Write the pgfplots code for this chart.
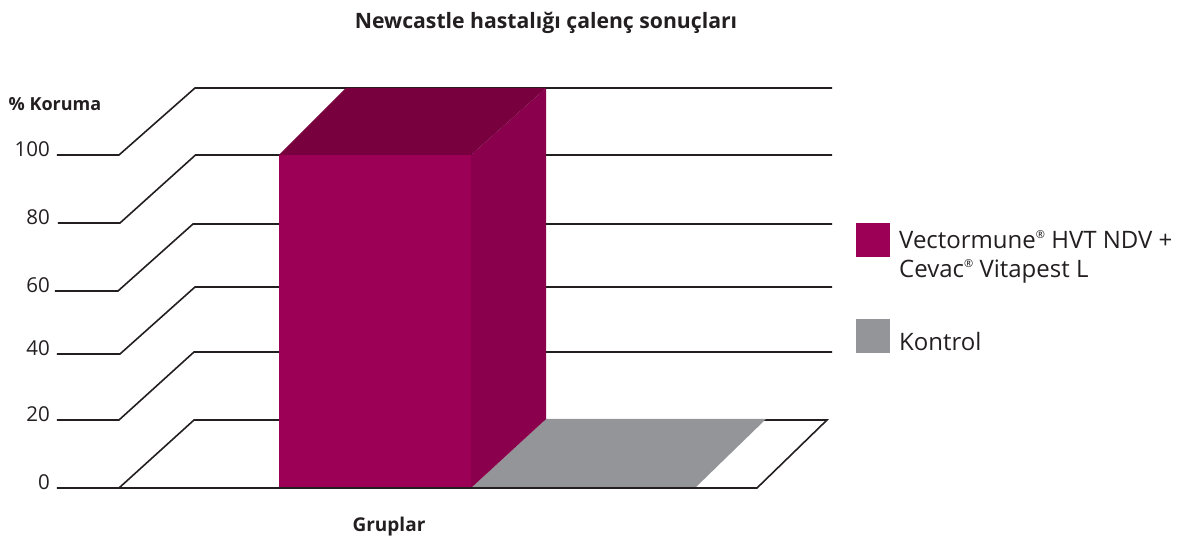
\documentclass[border=0pt]{standalone}
\usepackage{fontspec}
\setmainfont{Open Sans}
\usepackage{pgfplots}
\pgfplotsset{compat=1.18}
\definecolor{inkline}{HTML}{231F20}
\definecolor{barfront}{HTML}{9B0056}
\definecolor{barside}{HTML}{8A004D}
\definecolor{bartop}{HTML}{78003F}
\definecolor{floorgrey}{HTML}{939598}
\newcommand{\reg}{\raisebox{0.42em}{\fontsize{11}{11}\selectfont ®}}
% square legend swatches, one for the two-line entry and one for the single line
\pgfplotsset{
  swatch two/.style={legend image code/.code={\fill[##1] (0pt,-18pt) rectangle (34pt,16pt);}},
  swatch one/.style={legend image code/.code={\fill[##1] (0pt,-11pt) rectangle (34pt,23pt);}},
}
\begin{document}
\begin{tikzpicture}[x=1pt,y=1pt]
\useasboundingbox (-52,-49) rectangle (1133,488);
\begin{axis}[
  at={(0pt,0pt)}, anchor=south west,
  scale only axis, width=782pt, height=400pt,
  xmin=52, xmax=834, ymin=0, ymax=120.12,
  clip=false,
  axis line style={draw=none},
  xtick=\empty,
  ytick={0,20.42,40.24,59.16,79.58,100},
  yticklabels={0,20,40,60,80,100},
  major tick length=0pt,
  yticklabel style={font=\fontsize{20.5}{24}\selectfont,color=inkline,inner sep=0pt,xshift=-2pt,yshift=6pt},
  /pgf/number format/assume math mode=true,
  title={\fontsize{21.2}{25}\selectfont\bfseries Newcastle hastalığı çalenç sonuçları},
  title style={at={(axis cs:546,137.9)},anchor=center,color=inkline,inner sep=0pt},
  xlabel={\fontsize{19}{23}\selectfont\bfseries Gruplar},
  xlabel style={at={(axis cs:389,-11.7)},anchor=center,color=inkline,inner sep=0pt},
  ylabel={\fontsize{18}{21}\selectfont\bfseries \% Koruma},
  ylabel style={at={(axis cs:55,115.3)},anchor=center,rotate=-90,color=inkline,inner sep=0pt},
  legend cell align=left,
  legend style={at={(axis cs:856,79.58)},anchor=north west,draw=none,fill=none,inner sep=0pt,
    font=\fontsize{24}{29}\selectfont,text=inkline,
    /tikz/every odd column/.append style={column sep=7pt}},
  area legend,
]
% stepped grid lines: front stub, receding diagonal, back wall
\addplot[inkline,line width=1.6pt,forget plot] coordinates {(57,100) (119,100) (195,120.12) (832,120.12)};
\addplot[inkline,line width=1.6pt,forget plot] coordinates {(58,79.58) (120,79.58) (195.5,100) (832,100)};
\addplot[inkline,line width=1.6pt,forget plot] coordinates {(55,59.16) (118,59.16) (193,79.28) (832,79.28)};
\addplot[inkline,line width=1.6pt,forget plot] coordinates {(57,40.24) (120,40.24) (195,60.36) (832,60.36)};
\addplot[inkline,line width=1.6pt,forget plot] coordinates {(57,20.42) (119,20.42) (194,40.84) (832,40.84)};
\addplot[inkline,line width=1.6pt,forget plot] coordinates {(119,0) (194,20.42) (300,20.42)};
% floor with the control group, whose protection is 0
\addplot[inkline,line width=1.6pt,forget plot] coordinates {(57,0) (757,0) (827,20.42) (500,20.42)};
% column for the vaccinated group
\addplot[fill=barfront,draw=none,swatch two]
  coordinates {(279,0) (471,0) (471,100) (279,100)} -- cycle;
\addlegendentry{\begin{tabular}[t]{@{}l@{}}Vectormune\reg{} HVT NDV +\\Cevac\reg{} Vitapest L\end{tabular}}
% blank legend row that opens the gap above the second entry
\addlegendimage{empty legend}
\addlegendentry{\rule{0pt}{56pt}}
\addplot[fill=floorgrey,draw=none,swatch one]
  coordinates {(471,0) (546,20.72) (766,20.72) (695,0)} -- cycle;
\addlegendentry{Kontrol}
\addplot[fill=barside,draw=none,forget plot] coordinates {(471,0) (546,20.72) (546,120.12) (471,100)} -- cycle;
\addplot[fill=bartop,draw=none,forget plot] coordinates {(279,100) (346,120.12) (546,120.12) (471,100)} -- cycle;
\addplot[inkline,line width=1.6pt,forget plot] coordinates {(279,0) (757,0)};
\end{axis}
\end{tikzpicture}
\end{document}
